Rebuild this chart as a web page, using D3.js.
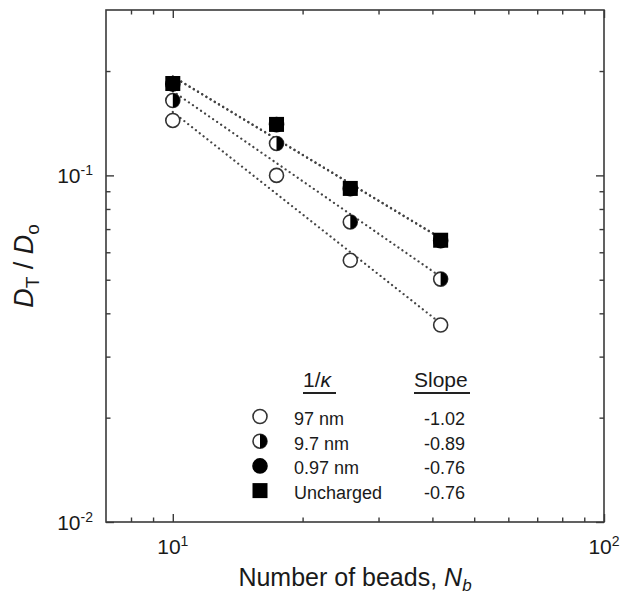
<!DOCTYPE html>
<html>
<head>
<meta charset="utf-8">
<script src="https://cdn.jsdelivr.net/npm/d3@7"></script>
<style>
  body { margin: 0; background: #fff; }
  svg { display: block; }
  text { font-family: "Liberation Sans", Arial, sans-serif; fill: #1a1a1a; }
</style>
</head>
<body>
<svg></svg>
<script>
const width = 636;
const height = 594;

// number of beads (x)
const beads = [10, 17.4, 25.8, 41.8];

// D_T / D_o for each screening length
const d97nm = [0.144, 0.1, 0.0569, 0.037];
const d9_7nm = [0.1644, 0.1236, 0.0734, 0.0502];
const d0_97nm = [0.1835, 0.1401, 0.0915, 0.0648];
const dUncharged = [0.1841, 0.1403, 0.0917, 0.065];

const seriesLabels = ["97 nm", "9.7 nm", "0.97 nm", "Uncharged"];
const seriesMarkers = ["open", "half", "filled", "square"];
const slopeLabels = ["-1.02", "-0.89", "-0.76", "-0.76"];

const xMajor = [10, 100];
const xMinor = [8, 9, 20, 30, 40, 50, 60, 70, 80, 90];
const yMajor = [0.01, 0.1];
const yMinor = [0.02, 0.03, 0.04, 0.05, 0.06, 0.07, 0.08, 0.09, 0.2];

const margin = { left: 106, right: 604, top: 10, bottom: 522 };

let svg = d3.select("svg").attr("width", width).attr("height", height);

const x = d3.scaleLog().domain([7, 100]).range([margin.left, margin.right]);
const y = d3.scaleLog().domain([0.01, 0.3]).range([margin.bottom, margin.top]);

const series = [d97nm, d9_7nm, d0_97nm, dUncharged].map((vals, i) => ({
  label: seriesLabels[i],
  marker: seriesMarkers[i],
  slope: slopeLabels[i],
  points: beads.map((b, j) => ({ x: b, y: vals[j] })),
}));

// ticks on all four sides, pointing inward
const axisColor = "#3a3a3a";
function addTicks(axisFn, scale, values, size, transform) {
  const g = svg
    .append("g")
    .attr("transform", transform)
    .call(axisFn(scale).tickValues(values).tickSize(size).tickSizeOuter(0).tickFormat(""));
  g.select(".domain").remove();
  g.selectAll("line").attr("stroke", axisColor).attr("stroke-width", 1.4);
}
addTicks(d3.axisBottom, x, xMajor, -8, `translate(0,${margin.bottom})`);
addTicks(d3.axisBottom, x, xMinor, -4.5, `translate(0,${margin.bottom})`);
addTicks(d3.axisTop, x, xMajor, -8, `translate(0,${margin.top})`);
addTicks(d3.axisTop, x, xMinor, -4.5, `translate(0,${margin.top})`);
addTicks(d3.axisLeft, y, yMajor, -8, `translate(${margin.left},0)`);
addTicks(d3.axisLeft, y, yMinor, -4.5, `translate(${margin.left},0)`);
addTicks(d3.axisRight, y, yMajor, -8, `translate(${margin.right},0)`);
addTicks(d3.axisRight, y, yMinor, -4.5, `translate(${margin.right},0)`);

svg
  .append("rect")
  .attr("x", margin.left)
  .attr("y", margin.top)
  .attr("width", margin.right - margin.left)
  .attr("height", margin.bottom - margin.top)
  .attr("fill", "none")
  .attr("stroke", axisColor)
  .attr("stroke-width", 1.6);

// tick labels as 10^n
function powerLabel(sel, v) {
  const exp = Math.round(Math.log10(v));
  sel.append("tspan").text("10");
  sel.append("tspan").attr("dy", -8).attr("font-size", 14).text(exp);
}
xMajor.forEach((v) => {
  svg
    .append("text")
    .attr("x", x(v))
    .attr("y", 554)
    .attr("text-anchor", "middle")
    .attr("font-size", 21)
    .call(powerLabel, v);
});
yMajor.forEach((v) => {
  svg
    .append("text")
    .attr("x", 93)
    .attr("y", y(v) + 8)
    .attr("text-anchor", "end")
    .attr("font-size", 21)
    .call(powerLabel, v);
});

// axis titles
const xTitle = svg
  .append("text")
  .attr("x", (margin.left + margin.right) / 2)
  .attr("y", 586)
  .attr("text-anchor", "middle")
  .attr("font-size", 25);
xTitle.append("tspan").text("Number of beads, ");
xTitle.append("tspan").attr("font-style", "italic").text("N");
xTitle.append("tspan").attr("font-style", "italic").attr("font-size", 17).attr("dy", 5).text("b");

const yTitle = svg
  .append("text")
  .attr("transform", `translate(33,${(margin.top + margin.bottom) / 2}) rotate(-90)`)
  .attr("text-anchor", "middle")
  .attr("font-size", 27);
yTitle.append("tspan").attr("font-style", "italic").text("D");
yTitle.append("tspan").attr("font-size", 19).attr("dy", 6).text("T");
yTitle.append("tspan").attr("dy", -6).text(" / ");
yTitle.append("tspan").attr("font-style", "italic").text("D");
yTitle.append("tspan").attr("font-size", 19).attr("dy", 6).text("o");

// dotted fit lines (least squares in log-log space)
function fit(points) {
  const lx = points.map((p) => Math.log10(p.x));
  const ly = points.map((p) => Math.log10(p.y));
  const mx = d3.mean(lx);
  const my = d3.mean(ly);
  const m = d3.sum(lx, (v, i) => (v - mx) * (ly[i] - my)) / d3.sum(lx, (v) => (v - mx) ** 2);
  const c = my - m * mx;
  const ends = [points[0].x, points[points.length - 1].x];
  return ends.map((v) => ({ x: v, y: Math.pow(10, c + m * Math.log10(v)) }));
}

const line = d3
  .line()
  .x((d) => x(d.x))
  .y((d) => y(d.y));

svg
  .append("g")
  .selectAll("path")
  .data(series)
  .enter()
  .append("path")
  .attr("d", (d) => line(fit(d.points)))
  .attr("fill", "none")
  .attr("stroke", "#444")
  .attr("stroke-width", 2.2)
  .attr("stroke-linecap", "round")
  .attr("stroke-dasharray", "0.1,4.8");

// markers
const r = 7;
const halfArc = d3.arc().innerRadius(0).outerRadius(r).startAngle(0).endAngle(Math.PI);

function drawMarker(g, type) {
  if (type === "square") {
    g.append("rect")
      .attr("x", -7.5)
      .attr("y", -7.5)
      .attr("width", 15)
      .attr("height", 15)
      .attr("fill", "#000");
    return;
  }
  g.append("circle")
    .attr("r", r)
    .attr("fill", type === "filled" ? "#000" : "#fff")
    .attr("stroke", type === "filled" ? "#000" : "#333")
    .attr("stroke-width", 1.6);
  if (type === "half") {
    g.append("path").attr("d", halfArc()).attr("fill", "#000");
  }
}

series.forEach((s) => {
  svg
    .append("g")
    .selectAll("g")
    .data(s.points)
    .enter()
    .append("g")
    .attr("transform", (d) => `translate(${x(d.x)},${y(d.y)})`)
    .each(function () {
      drawMarker(d3.select(this), s.marker);
    });
});

// legend
const legend = svg.append("g");
const headKappa = legend.append("text").attr("x", 303).attr("y", 387).attr("font-size", 21);
headKappa.append("tspan").text("1/");
headKappa.append("tspan").attr("font-style", "italic").text("κ");
legend.append("text").attr("x", 414).attr("y", 387).attr("font-size", 21).text("Slope");
[[303, 336], [414, 470]].forEach(([a, b]) => {
  legend
    .append("line")
    .attr("x1", a)
    .attr("x2", b)
    .attr("y1", 393)
    .attr("y2", 393)
    .attr("stroke", "#222")
    .attr("stroke-width", 1.8);
});

series.forEach((s, i) => {
  const base = 425 + i * 24.7;
  const g = legend.append("g").attr("transform", `translate(260,${base - 8.5})`);
  drawMarker(g, s.marker);
  legend.append("text").attr("x", 294).attr("y", base).attr("font-size", 18).text(s.label);
  legend
    .append("text")
    .attr("x", 465)
    .attr("y", base)
    .attr("text-anchor", "end")
    .attr("font-size", 18)
    .text(s.slope);
});
</script>
</body>
</html>
